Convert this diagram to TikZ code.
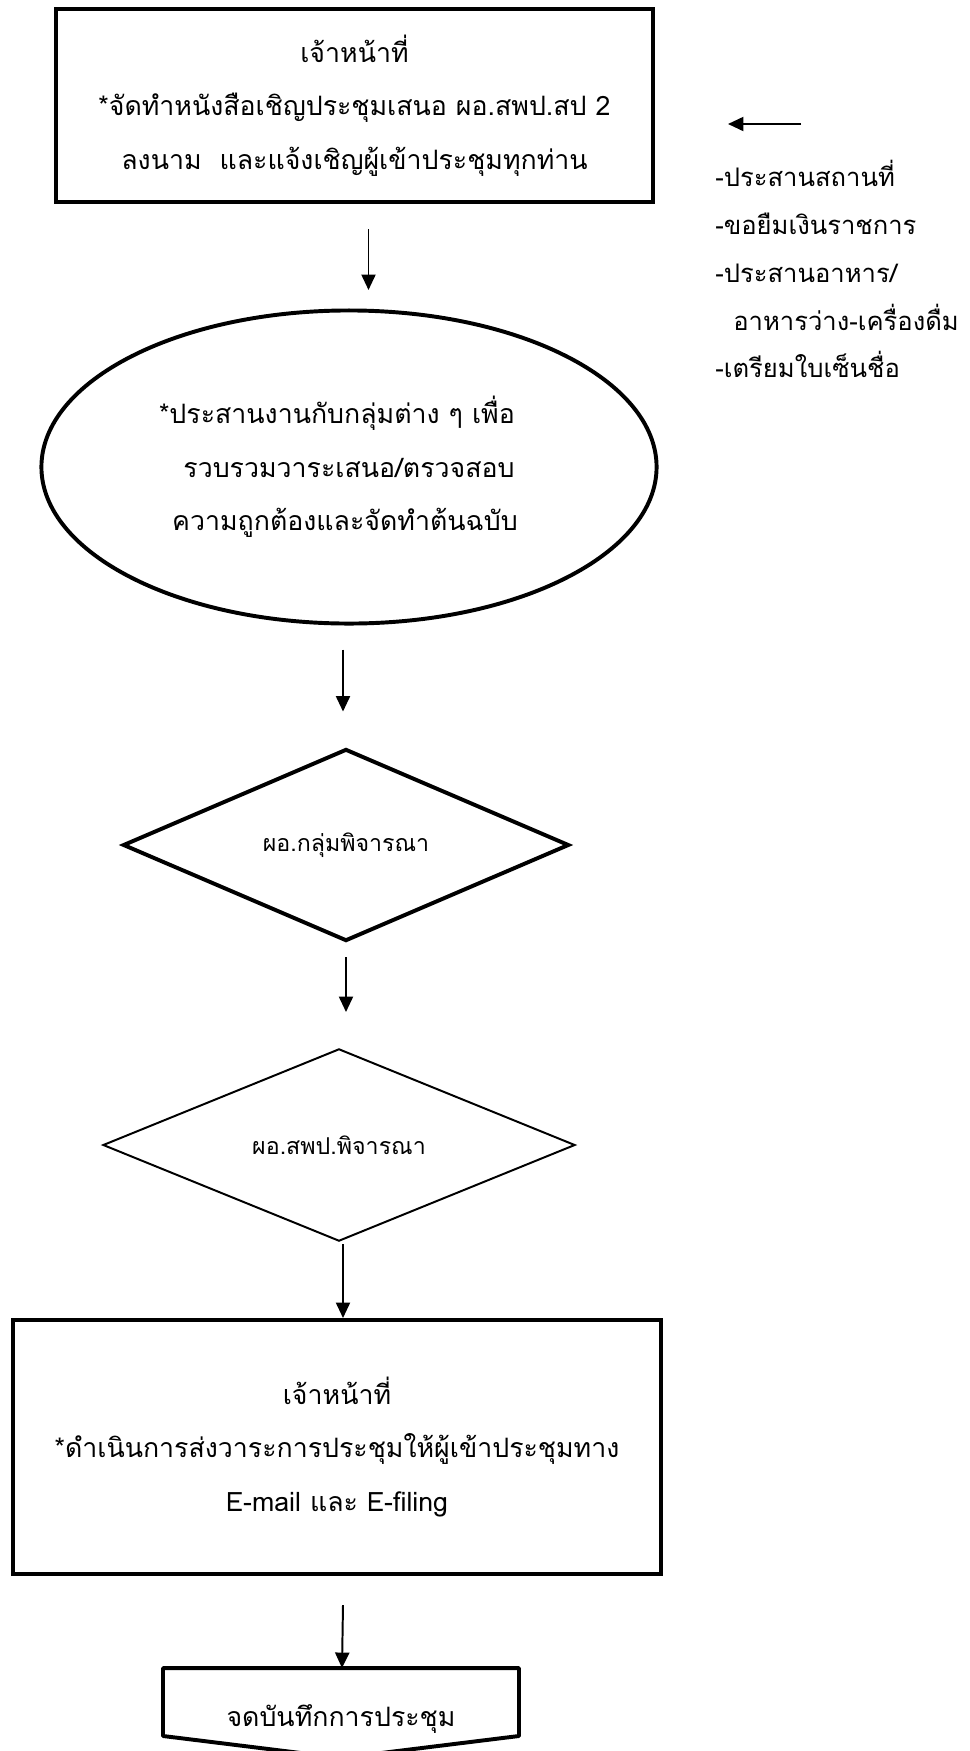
\documentclass[tikz,border=0pt]{standalone}
\usepackage{fontspec}
\newfontfamily\thaifont[Script=Thai]{Loma}
\usetikzlibrary{shapes.geometric,arrows.meta,calc}

\begin{document}
\begin{tikzpicture}[
    x=0.025cm, y=-0.025cm,
    txt/.style={font=\thaifont\fontsize{19pt}{38pt}\selectfont, align=center},
    box/.style={draw, line width=2.8pt, txt},
    oval/.style={ellipse, draw, line width=2.8pt, txt},
    choice/.style={diamond, draw, inner sep=0pt, font=\thaifont\fontsize{16.5pt}{20pt}\selectfont},
    edge/.style={line width=1.4pt, -{Triangle[length=11pt,width=10pt]}}
]
\useasboundingbox (0,0) rectangle (970,1751);

\node[box, minimum width=14.925cm, minimum height=4.825cm] (1) at (354.5,105.5)
    {เจ้าหน้าที่\\*จัดทำหนังสือเชิญประชุมเสนอ ผอ.สพป.สป 2\\ลงนาม\ \ และแจ้งเชิญผู้เข้าประชุมทุกท่าน};
\node[oval, minimum width=15.375cm, minimum height=7.825cm] (2) at (349,467)
    {*ประสานงานกับกลุ่มต่าง ๆ เพื่อ\hspace*{0.6cm}\\รวบรวมวาระเสนอ/ตรวจสอบ\hspace*{0.9cm}\\ความถูกต้องและจัดทำต้นฉบับ\hspace*{0.2cm}};
\node[choice, line width=2.8pt, minimum width=11.15cm, minimum height=4.8cm] (3) at (346,845) {ผอ.กลุ่มพิจารณา};
\node[choice, line width=1.4pt, minimum width=11.8cm, minimum height=4.8cm] (4) at (339,1145) {ผอ.สพป.พิจารณา};
\node[box, draw=none, minimum width=8.8cm, minimum height=1.6cm, text height=1.2cm, text depth=0cm] (6) at (341,1702) {จดบันทึกการประชุม};
\node[box, minimum width=16.2cm, minimum height=6.35cm] (5) at (337,1447)
    {เจ้าหน้าที่\\*ดำเนินการส่งวาระการประชุมให้ผู้เข้าประชุมทาง\\E-mail และ E-filing};
\node[txt, align=left, anchor=north west, inner sep=0pt, font=\thaifont\fontsize{18.2pt}{34pt}\selectfont] (7) at (715,160)
    {-ประสานสถานที่\\-ขอยืมเงินราชการ\\-ประสานอาหาร/\\\hspace{0.45cm}อาหารว่าง-เครื่องดื่ม\\-เตรียมใบเซ็นชื่อ};

\draw[line width=2.8pt, line join=round] (6.north west) -- (6.north east) -- (6.south east)
    -- ($(6.south)+(0,22)$) -- (6.south west) -- cycle;

\coordinate (a) at (801,124);
\coordinate (b) at (728,124);
\draw[edge] (a) -- (b);

\draw[edge] (1.south) ++(14,25) -- ++(0,61);
\draw[edge] (2.south) ++(-6,24) -- ++(0,62);
\draw[edge] (3.south) ++(0,14) -- ++(0,55);
\draw[edge] (4.south) ++(4,2) -- (5.north -| 343,0);
\draw[edge] (5.south) ++(6,29) -- (6.north -| 342,0);

\end{tikzpicture}
\end{document}
